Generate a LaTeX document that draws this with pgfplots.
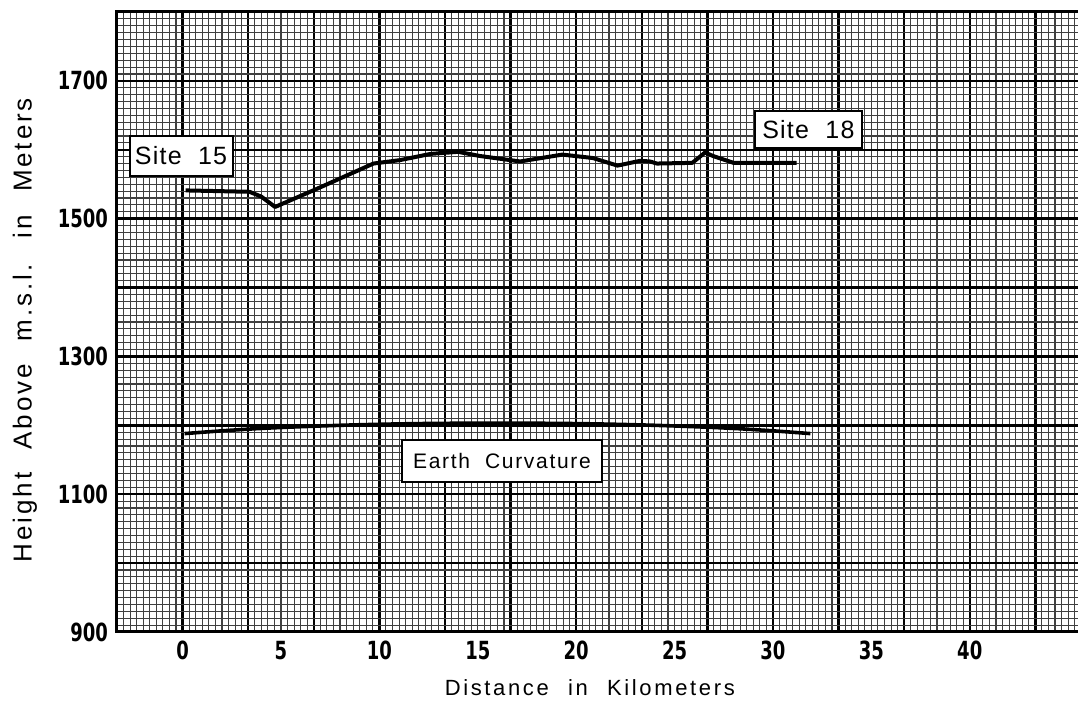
\documentclass[border=0pt]{standalone}
\usepackage{fontspec}
\setmainfont{Liberation Sans}
\newfontfamily\tickfont{DejaVu Sans}[FakeStretch=0.72]
\newfontfamily\labfont{Liberation Sans}[LetterSpace=12,WordSpace=2.2]
\newfontfamily\ylabfont{Liberation Sans}[LetterSpace=11,WordSpace=2.3]
\newfontfamily\boxfont{Liberation Sans}[LetterSpace=5,WordSpace=2.0]
\newfontfamily\ecfont{Liberation Sans}[LetterSpace=8,WordSpace=2.0]
\usepackage{pgfplots}
\pgfplotsset{compat=1.18}
\begin{document}
\begin{tikzpicture}
\begin{axis}[
  scale only axis,
  width=480.5pt, height=310pt,
  xmin=-3.33333, xmax=45.5,
  ymin=900, ymax=1800,
  clip=false,
  axis line style={draw=none},
  /pgf/number format/assume math mode=true,
  xtick={-3.33333,0,...,46},
  xticklabels={},
  minor x tick num=9,
  extra x ticks={0,5,10,15,20,25,30,35,40},
  extra x tick labels={0,5,10,15,20,25,30,35,40},
  extra x tick style={grid=none},
  ytick={900,1000,...,1800},
  yticklabels={900,,1100,,1300,,1500,,1700,},
  minor y tick num=9,
  major tick length=0pt, minor tick length=0pt,
  grid=both,
  major grid style={black, line width=1.2pt},
  minor grid style={black!75, line width=0.55pt},
  tick label style={font=\fontsize{12.5}{13}\tickfont\bfseries},
  xticklabel style={yshift=-1pt},
  yticklabel style={xshift=-1pt},
  xlabel={\labfont\fontsize{11}{12}\selectfont Distance in Kilometers},
  ylabel={\ylabfont\fontsize{13}{14}\selectfont Height Above m.s.l. in Meters},
  every axis x label/.style={at={(axis description cs:0.492,0)}, anchor=center, yshift=-28pt},
  every axis y label/.style={at={(axis description cs:0,0.487)}, anchor=center, rotate=90, yshift=46pt},
]
\addplot[black, line width=2pt, line join=round] coordinates {
(0.15,1541) (3.4,1539) (4.0,1532) (4.7,1517) (6.8,1543) (9.7,1580) (11.05,1585)
(12.6,1594) (14.0,1597) (15.1,1591) (17.15,1583) (19.3,1593) (20.85,1588)
(22.1,1577) (23.25,1584) (23.75,1583) (24.1,1580) (25.9,1581) (26.55,1596)
(26.95,1591) (28.0,1581) (31.2,1581)};
\addplot[black, line width=1.8pt, smooth] coordinates {
(0.1,1188) (2,1192) (4,1195.5) (6,1198) (8,1200) (10,1201.5) (12,1202.5)
(14,1203) (16,1203) (18,1203) (20,1202.5) (22,1201.5) (24,1200) (26,1198)
(28,1195.5) (30,1192) (31.9,1188)};
\draw[black, line width=1.5pt] (rel axis cs:1,1) -- (rel axis cs:0,1) -- (rel axis cs:0,0) -- (rel axis cs:1,0);
\node[draw=black, line width=1pt, fill=white, minimum width=51.5pt, minimum height=20pt, inner sep=0pt, font=\boxfont\fontsize{12.5}{14}\selectfont] at (axis cs:-0.08,1591) {Site 15};
\node[draw=black, line width=1pt, fill=white, minimum width=53.5pt, minimum height=18.5pt, inner sep=0pt, font=\boxfont\fontsize{12.5}{14}\selectfont] at (axis cs:31.8,1629.7) {Site 18};
\node[draw=black, line width=1pt, fill=white, minimum width=100pt, minimum height=21pt, inner sep=0pt, font=\ecfont\fontsize{10.5}{12}\selectfont] at (axis cs:16.23,1147.8) {Earth Curvature};
\end{axis}
\pgfresetboundingbox
\path[use as bounding box] ([shift={(-58.5pt,-35.5pt)}]current axis.south west) rectangle ([shift={(0pt,6pt)}]current axis.north east);
\end{tikzpicture}
\end{document}
